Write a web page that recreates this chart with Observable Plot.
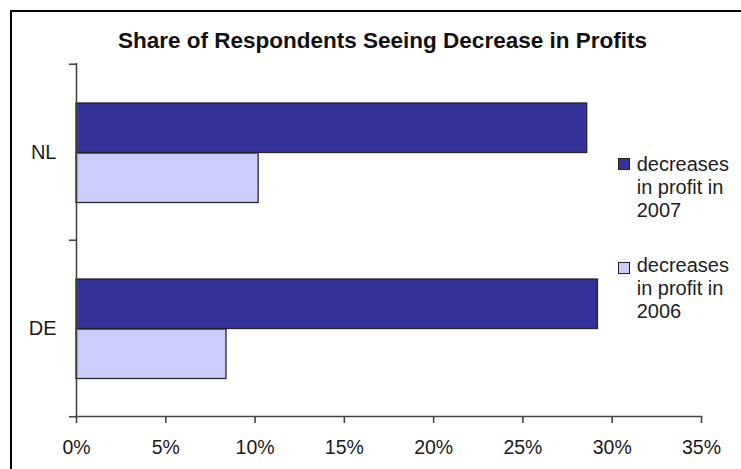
<!DOCTYPE html>
<html>
<head>
<meta charset="utf-8">
<script src="https://cdn.jsdelivr.net/npm/d3@7"></script>
<script src="https://cdn.jsdelivr.net/npm/@observablehq/plot@0.6"></script>
<style>
  html, body { margin: 0; padding: 0; background: #fff; }
  #wrap { position: relative; width: 741px; height: 469px; overflow: hidden; background: #fff;
          font-family: "Liberation Sans", Arial, sans-serif; }
  #wrap svg { position: absolute; left: 0; top: 0; }
  #title { position: absolute; left: 24px; width: 717px; top: 28px; line-height: 26px;
           text-align: center; font-weight: bold; font-size: 22.5px; color: #111; }
  #border { position: absolute; left: 10px; top: 10px; width: 900px; height: 900px;
            border-left: 2px solid #000; border-top: 2px solid #000; pointer-events: none; }
  .lg-item { position: absolute; left: 618px; }
  .lg-sw { position: absolute; left: 0; width: 10px; height: 10px; border: 1px solid #222; }
  .lg-tx { position: absolute; left: 18.7px; font-size: 20px; line-height: 23px; color: #222; white-space: nowrap; }
</style>
</head>
<body>
<div id="wrap">
  <div id="title"></div>
</div>
<script>
// ---- data ----
const chartTitle = "Share of Respondents Seeing Decrease in Profits";
const countries = ["NL", "DE"];
const seriesNames = ["decreases in profit in 2007", "decreases in profit in 2006"];
const legendLines = [["decreases", "in profit in", "2007"], ["decreases", "in profit in", "2006"]];
const share2007 = [0.286, 0.292];
const share2006 = [0.102, 0.084];
const xTicks = [0, 0.05, 0.10, 0.15, 0.20, 0.25, 0.30, 0.35];
const seriesColors = ["#333399", "#CCCCFF"];

// ---- build table ----
const rows = [];
countries.forEach((c, i) => {
  rows.push({country: c, series: seriesNames[0], value: share2007[i]});
  rows.push({country: c, series: seriesNames[1], value: share2006[i]});
});

const axisStroke = "#444";

const chart = Plot.plot({
  width: 741,
  height: 469,
  marginLeft: 76,
  marginRight: 40,
  marginTop: 63,
  marginBottom: 53,
  style: {fontFamily: "'Liberation Sans', Arial, sans-serif", color: "#1a1a1a", background: "transparent"},
  x: {domain: [0, 0.35], axis: null},
  y: {domain: countries, padding: 0, axis: null},
  color: {domain: seriesNames, range: seriesColors},
  marks: [
    Plot.barX(rows.filter(d => d.series === seriesNames[0]), {
      x: "value", y: "country", fill: "series",
      insetTop: 39, insetBottom: 87.5, stroke: "#262626", strokeWidth: 1.3
    }),
    Plot.barX(rows.filter(d => d.series === seriesNames[1]), {
      x: "value", y: "country", fill: "series",
      insetTop: 89, insetBottom: 37.5, stroke: "#262626", strokeWidth: 1.3
    }),
    Plot.ruleX([0], {stroke: axisStroke, strokeWidth: 1.6}),
    Plot.frame({anchor: "bottom", stroke: axisStroke, strokeWidth: 1.6}),
    // boundary ticks on the category axis
    Plot.axisY({tickSize: 7, text: null, dy: -88.25, stroke: axisStroke, strokeWidth: 1.6, label: null}),
    Plot.axisY({ticks: ["DE"], tickSize: 7, text: null, dy: 88.25, stroke: axisStroke, strokeWidth: 1.6, label: null}),
    // category labels
    Plot.axisY({tickSize: 0, tickPadding: 20, fontSize: 20, label: null}),
    // value axis
    Plot.axisX({ticks: xTicks, tickFormat: d3.format(".0%"), tickSize: 7, tickPadding: 17,
                fontSize: 19.5, stroke: axisStroke, strokeWidth: 1.6, label: null})
  ]
});

const wrap = document.getElementById("wrap");
wrap.insertBefore(chart, wrap.firstChild);
document.getElementById("title").textContent = chartTitle;

// legend
const legendTops = [153, 254];
const swatchTops = [158, 261.5];
seriesNames.forEach((s, i) => {
  const item = document.createElement("div");
  item.className = "lg-item";
  item.style.top = "0px";
  const sw = document.createElement("div");
  sw.className = "lg-sw";
  sw.style.top = swatchTops[i] + "px";
  sw.style.background = seriesColors[i];
  const tx = document.createElement("div");
  tx.className = "lg-tx";
  tx.style.top = legendTops[i] + "px";
  legendLines[i].forEach((line, j) => {
    if (j) tx.appendChild(document.createElement("br"));
    tx.appendChild(document.createTextNode(line));
  });
  item.appendChild(sw);
  item.appendChild(tx);
  wrap.appendChild(item);
});

const border = document.createElement("div");
border.id = "border";
wrap.appendChild(border);
</script>
</body>
</html>
